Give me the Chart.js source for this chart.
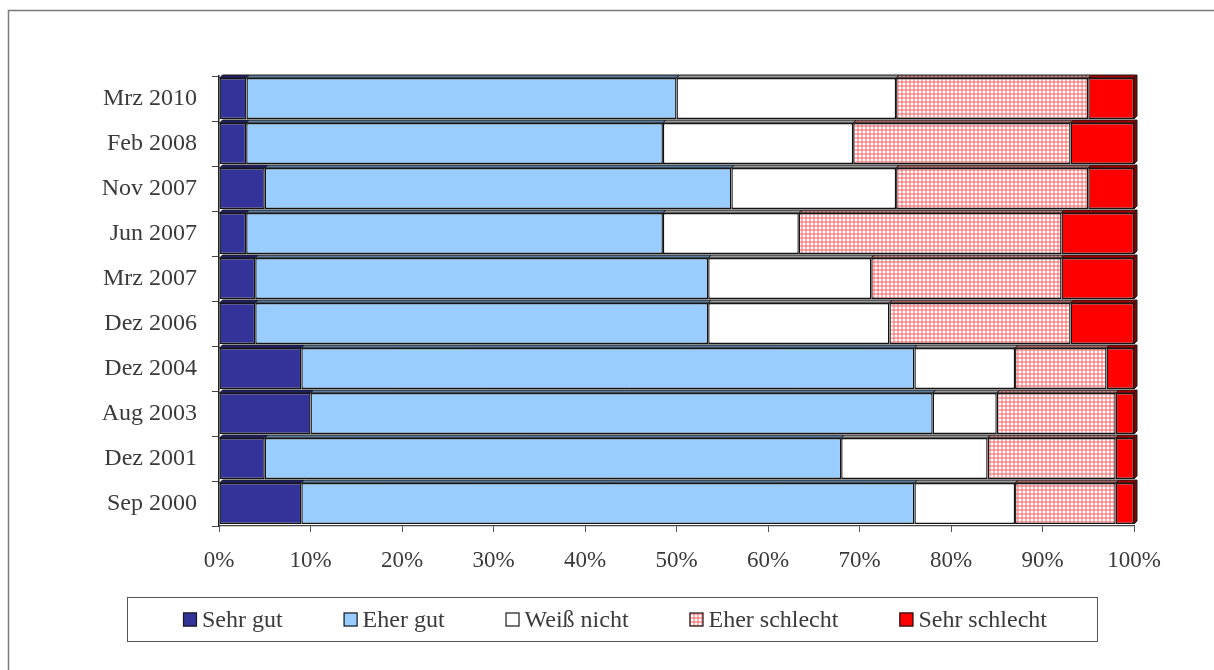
<!DOCTYPE html>
<html>
<head>
<meta charset="utf-8">
<script src="https://cdn.jsdelivr.net/npm/chart.js@4/dist/chart.umd.min.js"></script>
<style>
  html, body { margin: 0; padding: 0; background: #fff; }
  #wrap { width: 1214px; height: 670px; position: relative; }
</style>
</head>
<body>
<div id="wrap"><canvas id="c" width="1214" height="670"></canvas></div>
<script>
// Survey periods, top to bottom
const categories = ['Mrz 2010', 'Feb 2008', 'Nov 2007', 'Jun 2007', 'Mrz 2007',
                    'Dez 2006', 'Dez 2004', 'Aug 2003', 'Dez 2001', 'Sep 2000'];

// Answer shares per period (raw survey percentages)
const sehrGut      = [3, 3, 5, 3, 4, 4, 9, 10, 5, 9];
const eherGut      = [47, 46, 51, 46, 50, 50, 67, 68, 63, 67];
const weissNicht   = [24, 21, 18, 15, 18, 20, 11, 7, 16, 11];
const eherSchlecht = [21, 24, 21, 29, 21, 20, 10, 13, 14, 11];
const sehrSchlecht = [5, 7, 5, 8, 8, 7, 3, 2, 2, 2];

const seriesNames = ['Sehr gut', 'Eher gut', 'Weiß nicht', 'Eher schlecht', 'Sehr schlecht'];
const xTicks = [0, 10, 20, 30, 40, 50, 60, 70, 80, 90, 100];

const FONT = "'Liberation Serif', 'Times New Roman', serif";
const TEXT = '#3a3a3a';

// Small checked red tile for "Eher schlecht"
function makePattern() {
  const t = document.createElement('canvas');
  t.width = 4; t.height = 4;
  const g = t.getContext('2d');
  g.fillStyle = '#ffffff'; g.fillRect(0, 0, 4, 4);
  g.fillStyle = '#ffb0b0'; g.fillRect(1, 0, 2, 4); g.fillRect(0, 1, 4, 2);
  g.fillStyle = '#ff8585'; g.fillRect(1, 1, 2, 2);
  return document.getElementById('c').getContext('2d').createPattern(t, 'repeat');
}
function makeDarkPattern() {
  const t = document.createElement('canvas');
  t.width = 4; t.height = 4;
  const g = t.getContext('2d');
  g.fillStyle = '#b09090'; g.fillRect(0, 0, 4, 4);
  g.fillStyle = '#a06060'; g.fillRect(1, 0, 2, 4); g.fillRect(0, 1, 4, 2);
  return document.getElementById('c').getContext('2d').createPattern(t, 'repeat');
}
const hatch = makePattern();
const hatchDark = makeDarkPattern();

const fills = ['#333399', '#99ccff', '#ffffff', hatch, '#ff0000'];
const topFills = ['#1f1f6a', '#5b7c9c', '#9a9a9a', hatchDark, '#a00000'];
const raw = [sehrGut, eherGut, weissNicht, eherSchlecht, sehrSchlecht];

// Each period is scaled to 100 %
const rowTotals = categories.map((_, i) => raw.reduce((s, arr) => s + arr[i], 0));
const pct = raw.map(arr => arr.map((v, i) => v / rowTotals[i] * 100));

const datasets = seriesNames.map((name, k) => ({
  label: name,
  data: pct[k],
  backgroundColor: fills[k],
  borderColor: '#141414',
  borderWidth: 1.4,
  borderSkipped: false,
  barPercentage: 0.91,
  categoryPercentage: 1.0
}));

// Page background and outer frame
const framePlugin = {
  id: 'frame',
  beforeDraw(chart) {
    const ctx = chart.ctx;
    ctx.save();
    ctx.fillStyle = '#fff';
    ctx.fillRect(0, 0, chart.width, chart.height);
    ctx.restore();
  },
  afterDraw(chart) {
    const ctx = chart.ctx;
    ctx.save();
    ctx.strokeStyle = '#7a7a7a';
    ctx.lineWidth = 1.5;
    ctx.strokeRect(8.5, 10.5, chart.width + 20, chart.height + 20);
    ctx.restore();
  }
};

// Thin top face (and right side of the last segment) for the slanted bar look
const depthPlugin = {
  id: 'depth',
  afterDatasetsDraw(chart) {
    const ctx = chart.ctx;
    const d = 3;
    ctx.save();
    ctx.lineWidth = 1;
    ctx.strokeStyle = '#1a1a1a';
    chart.data.datasets.forEach((ds, k) => {
      const meta = chart.getDatasetMeta(k);
      meta.data.forEach(bar => {
        const p = bar.getProps(['x', 'base', 'y', 'height'], true);
        const left = Math.min(p.base, p.x), right = Math.max(p.base, p.x);
        const top = p.y - p.height / 2, bottom = p.y + p.height / 2;
        ctx.beginPath();
        ctx.moveTo(left, top);
        ctx.lineTo(left + d, top - d);
        ctx.lineTo(right + d, top - d);
        ctx.lineTo(right, top);
        ctx.closePath();
        ctx.fillStyle = topFills[k];
        ctx.fill();
        ctx.stroke();
        if (k === chart.data.datasets.length - 1) {
          ctx.beginPath();
          ctx.moveTo(right, top);
          ctx.lineTo(right + d, top - d);
          ctx.lineTo(right + d, bottom - d);
          ctx.lineTo(right, bottom);
          ctx.closePath();
          ctx.fillStyle = '#8a0000';
          ctx.fill();
          ctx.stroke();
        }
      });
    });
    ctx.restore();
  }
};

// Boxed legend row under the axis
const legendBoxPlugin = {
  id: 'legendBox',
  afterDraw(chart) {
    const ctx = chart.ctx;
    const box = { l: 127.5, t: 597.5, r: 1097.5, b: 641.5 };
    ctx.save();
    ctx.strokeStyle = '#555';
    ctx.lineWidth = 1;
    ctx.strokeRect(box.l, box.t, box.r - box.l, box.b - box.t);
    ctx.font = '24px ' + FONT;
    ctx.textBaseline = 'middle';
    const sq = 14, gapText = 5;
    const startX = 183, endX = 1047;
    const items = chart.data.datasets.map(ds => ({ label: ds.label, w: ctx.measureText(ds.label).width }));
    const used = items.reduce((s, it) => s + sq + gapText + it.w, 0);
    const gap = (endX - startX - used) / (items.length - 1);
    let x = startX;
    const cy = 619.5;
    items.forEach((it, k) => {
      ctx.fillStyle = chart.data.datasets[k].backgroundColor;
      ctx.fillRect(x, cy - sq / 2, sq, sq);
      ctx.strokeStyle = '#1a1a1a';
      ctx.lineWidth = 1.2;
      ctx.strokeRect(x + 0.5, cy - sq / 2 + 0.5, sq - 1, sq - 1);
      ctx.fillStyle = TEXT;
      ctx.fillText(it.label, x + sq + gapText, cy + 1);
      x += sq + gapText + it.w + gap;
    });
    ctx.restore();
  }
};

new Chart(document.getElementById('c'), {
  type: 'bar',
  data: { labels: categories, datasets },
  options: {
    indexAxis: 'y',
    responsive: false,
    animation: false,
    layout: { padding: { top: 76, right: 80, bottom: 94, left: 0 } },
    plugins: { legend: { display: false }, tooltip: { enabled: false } },
    scales: {
      x: {
        stacked: true,
        min: 0, max: 100,
        afterBuildTicks(scale) { scale.ticks = xTicks.map(v => ({ value: v })); },
        ticks: {
          callback: v => v + '%',
          font: { family: FONT, size: 23 },
          color: TEXT,
          padding: 15,
          maxRotation: 0
        },
        grid: { drawOnChartArea: false, drawTicks: true, tickLength: 6, color: '#555', lineWidth: 1 },
        border: { display: true, color: '#444', width: 1.2 },
        afterFit(scale) { scale.height = 50; }
      },
      y: {
        stacked: true,
        ticks: {
          font: { family: FONT, size: 24 },
          color: TEXT,
          padding: 15
        },
        grid: { drawOnChartArea: false, drawTicks: true, tickLength: 7, color: '#444', offset: true },
        border: { display: true, color: '#222', width: 1.5 },
        afterFit(scale) { scale.width = 219; }
      }
    }
  },
  plugins: [framePlugin, depthPlugin, legendBoxPlugin]
});
</script>
</body>
</html>
